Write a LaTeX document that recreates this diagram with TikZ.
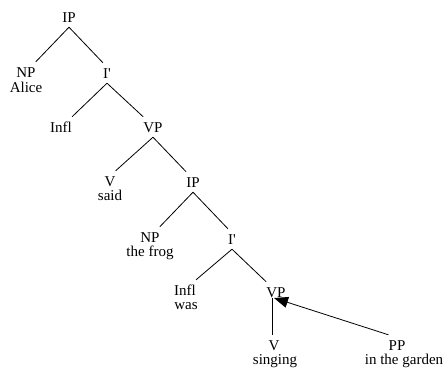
\documentclass[tikz,border=0pt]{standalone}
\usepackage{fontspec}
\setmainfont{Liberation Serif}
\usetikzlibrary{arrows.meta}
\begin{document}
\begin{tikzpicture}[x=1pt,y=-1pt,
  cat/.style={anchor=base,text height=10pt,text depth=0pt,inner sep=0pt},
  word/.style={anchor=base,inner sep=0pt},
  edge/.style={line width=0.8pt},
  font=\fontsize{15}{18}\selectfont]
\useasboundingbox (0,0) rectangle (446,370);
% categories
\node[cat] (ip1) at (69,22) {IP};
\node[cat] (np1) at (26,77) {NP};
\node[cat] (ib1) at (107,78) {I\textquotesingle};
\node[cat] (infl1) at (61,132) {Infl};
\node[cat] (vp1) at (153,132) {VP};
\node[cat] (v1) at (110,186) {V};
\node[cat] (ip2) at (193,187) {IP};
\node[cat] (np2) at (150,242) {NP};
\node[cat] (ib2) at (232,244) {I\textquotesingle};
\node[cat] (infl2) at (185,295) {Infl};
\node[cat] (vp2) at (276,297) {VP};
\node[cat] (v3) at (274,350) {V};
\node[cat] (pp) at (397,350) {PP};
% words
\node[word] (alice) at (26,92) {Alice};
\node[word] (said) at (110,200) {said};
\node[word] (frog) at (150,256.5) {the frog};
\node[word] (was) at (186,309) {was};
\node[word] (singing) at (275,364) {singing};
\node[word] (garden) at (404,364) {in the garden};
% edges
\draw[edge] ([yshift=-5pt]ip1.south) -- ([yshift=5pt]np1.north east);
\draw[edge] ([yshift=-5pt]ip1.south) -- ([yshift=5pt]ib1.north west);
\draw[edge] ([yshift=-5pt]ib1.south) -- ([yshift=5pt]infl1.north east);
\draw[edge] ([yshift=-5pt]ib1.south) -- ([yshift=5pt]vp1.north west);
\draw[edge] ([yshift=-5pt]vp1.south) -- ([yshift=5pt]v1.north east);
\draw[edge] ([yshift=-5pt]vp1.south) -- ([yshift=5pt]ip2.north west);
\draw[edge] ([yshift=-5pt]ip2.south) -- ([yshift=5pt]np2.north east);
\draw[edge] ([yshift=-5pt]ip2.south) -- ([yshift=5pt]ib2.north west);
\draw[edge] ([yshift=-5pt]ib2.south) -- ([yshift=5pt]infl2.north east);
\draw[edge] ([yshift=-5pt]ib2.south) -- ([yshift=5pt]vp2.north west);
\draw[edge] ([xshift=-2pt,yshift=5pt]v3.north) -- ([xshift=-2pt,yshift=-1pt]v3.north |- vp2.south);
\draw[edge,-{Triangle[length=14pt,width=11pt]}] ([yshift=5pt]pp.north west) -- ([xshift=-2pt,yshift=-1pt]vp2.base);
\end{tikzpicture}
\end{document}
